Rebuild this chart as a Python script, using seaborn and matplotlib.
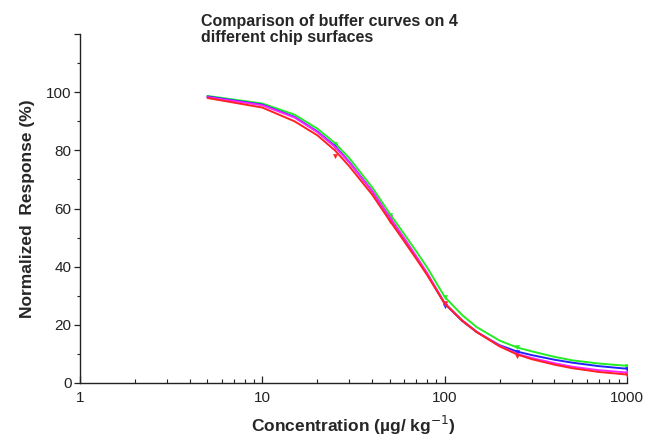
import numpy as np
import matplotlib.pyplot as plt
import matplotlib.ticker as mticker
import pandas as pd
import seaborn as sns

# concentrations along the fitted curves (ug/kg)
conc = [5, 10, 15, 20, 25, 30, 40, 50, 60, 70, 80, 100, 125, 150, 200, 250, 300, 400, 500, 700, 1000]

# normalized response (%), one curve per chip surface
green = [98.7, 96.1, 92.3, 87.5, 82.5, 77.3, 67.3, 58.2, 51.2, 45.2, 39.8, 29.6, 23.3, 19.2, 14.6, 12.2, 10.9, 9.0, 7.8, 6.7, 5.9]
blue = [98.5, 95.7, 91.5, 86.5, 81.5, 76.0, 66.0, 56.8, 49.6, 43.2, 37.6, 27.3, 21.3, 17.5, 13.0, 10.8, 9.6, 8.0, 7.0, 5.8, 4.9]
magenta = [98.3, 95.5, 91.3, 86.3, 81.2, 75.8, 66.0, 56.9, 49.8, 43.5, 37.9, 27.5, 21.5, 17.6, 12.8, 10.0, 8.6, 6.8, 5.6, 4.4, 3.6]
red = [98.0, 94.7, 90.0, 85.2, 80.0, 74.5, 64.8, 55.8, 48.7, 42.6, 37.2, 27.3, 21.4, 17.5, 12.6, 9.8, 8.2, 6.3, 5.1, 3.8, 2.9]

# measured points
pt_conc = [25, 50, 100, 250, 1000]
pt_green = [82.3, 57.9, 29.4, 12.4, 5.9]
pt_blue = [81.5, 57.0, 26.6, 10.5, 4.9]
pt_magenta = [81.2, 57.0, 27.1, 9.6, 3.6]
pt_red = [78.0, 55.6, 27.5, 9.3, 2.9]

series = {"green": (green, pt_green, "#22ee22"),
          "blue": (blue, pt_blue, "#2222ff"),
          "magenta": (magenta, pt_magenta, "#ff22ff"),
          "red": (red, pt_red, "#ff2222")}

sns.set_style("white")
plt.rcParams['font.family'] = ['Liberation Sans', 'DejaVu Sans']

fig = plt.figure(figsize=(6.49, 4.45), dpi=100)
ax = fig.add_axes([80/649, 62/445, 547/649, 349/445])

for name in ["green", "blue", "magenta", "red"]:
    vals, pts, col = series[name]
    df = pd.DataFrame({"c": conc, "v": vals})
    sns.lineplot(data=df, x="c", y="v", color=col, lw=1.4, ax=ax)
    dp = pd.DataFrame({"c": pt_conc, "v": pts})
    sns.scatterplot(data=dp, x="c", y="v", color=col, marker="v", s=10, edgecolor=col, ax=ax)

ax.set_xscale("log")
ax.set_xlim(1, 1000)
ax.set_ylim(0, 120)
ax.set_xticks([1, 10, 100, 1000])
ax.xaxis.set_major_formatter(mticker.FuncFormatter(lambda v, p: "%d" % v))
ax.xaxis.set_minor_locator(mticker.LogLocator(base=10, subs=np.arange(2, 10)))
ax.xaxis.set_minor_formatter(mticker.NullFormatter())
ax.set_yticks([0, 20, 40, 60, 80, 100, 120])
ax.set_yticklabels(["0", "20", "40", "60", "80", "100", ""])
ax.yaxis.set_minor_locator(mticker.MultipleLocator(10))

ax.tick_params(bottom=True, left=True, which="both")
ax.tick_params(axis="x", which="major", direction="in", length=5, width=0.9, labelsize=11, pad=6, colors="#222222")
ax.tick_params(axis="x", which="minor", direction="in", length=3, width=0.8, colors="#222222")
ax.tick_params(axis="y", which="major", direction="out", length=4, width=0.9, labelsize=11, pad=2, colors="#222222")
ax.tick_params(axis="y", which="minor", direction="out", length=2.5, width=0.8, colors="#222222")

for s in ["top", "right"]:
    ax.spines[s].set_visible(False)
for s in ["left", "bottom"]:
    ax.spines[s].set_color("#222222")
    ax.spines[s].set_linewidth(1.0)

ax.set_xlabel("Concentration (\u00b5g/ kg$^{-1}$)", fontsize=12.5, fontweight="bold", labelpad=6)
ax.set_ylabel("Normalized  Response (%)", fontsize=12.5, fontweight="bold", labelpad=8)

fig.text(201/649, 1 - 14/445, "Comparison of buffer curves on 4\ndifferent chip surfaces",
         fontsize=11.5, fontweight="bold", ha="left", va="top", linespacing=1.05)

fig.savefig("out.png", dpi=100)
